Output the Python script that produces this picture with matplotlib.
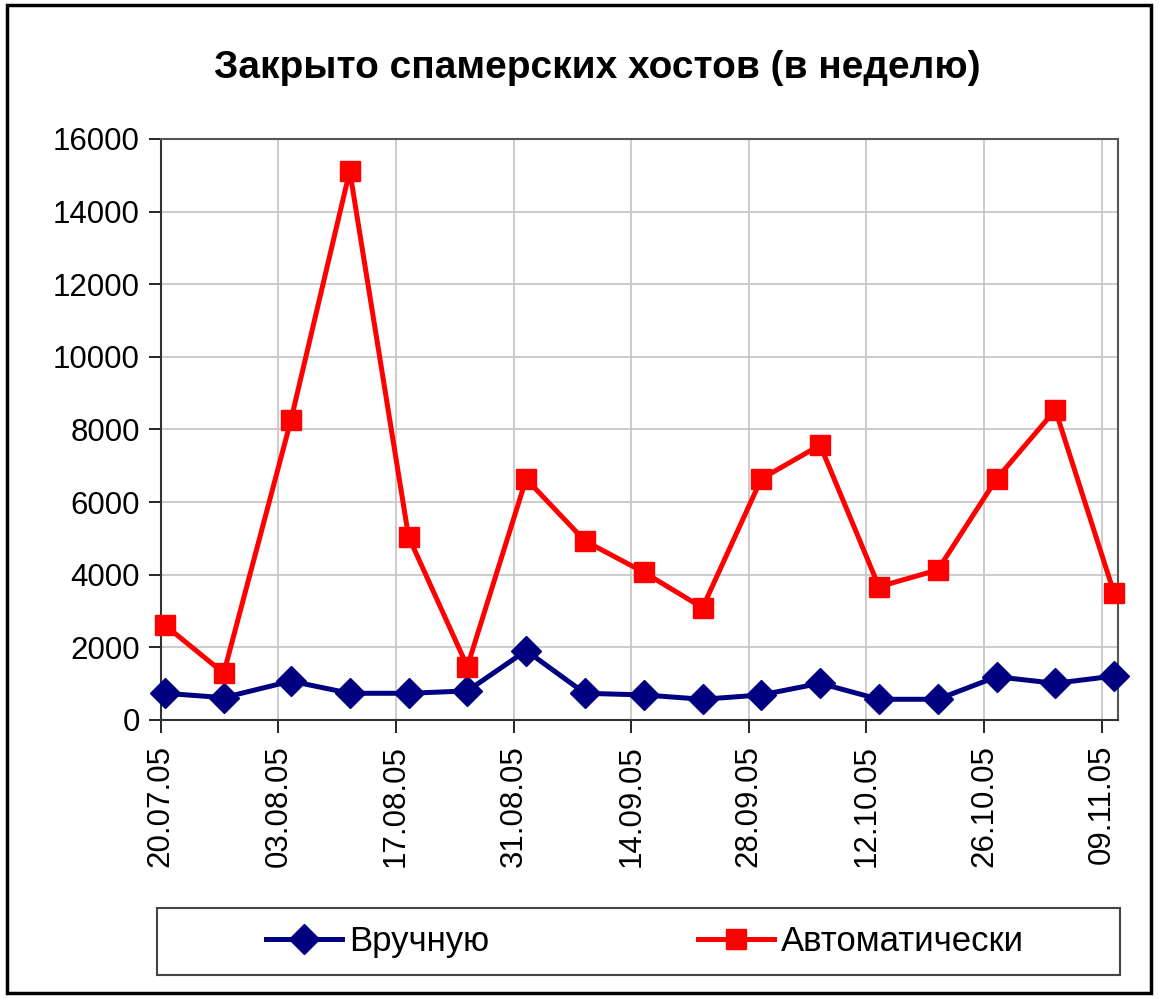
import matplotlib
matplotlib.use("Agg")
import matplotlib.pyplot as plt
import matplotlib.dates as mdates
from matplotlib.patches import Rectangle
import pandas as pd

plt.rcParams['font.family'] = ['Liberation Sans', 'DejaVu Sans']

# weekly data (dates as in the source table)
dates = ["2005-07-20", "2005-07-27", "2005-08-04", "2005-08-11", "2005-08-18",
         "2005-08-25", "2005-09-01", "2005-09-08", "2005-09-15", "2005-09-22",
         "2005-09-29", "2005-10-06", "2005-10-13", "2005-10-20", "2005-10-27",
         "2005-11-03", "2005-11-10"]
manual = [735, 615, 1070, 735, 735, 800, 1910, 735, 690, 570,
          690, 1010, 570, 570, 1190, 1010, 1210]
auto = [2610, 1290, 8260, 15120, 5050, 1470, 6640, 4930, 4070, 3090,
        6640, 7570, 3670, 4130, 6640, 8540, 3490]

labels = ["Вручную", "Автоматически"]
title = "Закрыто спамерских хостов (в неделю)"

# Excel puts each point in the middle of its day slot
x = pd.to_datetime(dates) + pd.Timedelta(hours=12)

fig = plt.figure(figsize=(11.59, 9.99), dpi=100)
ax = fig.add_axes([0.1387, 0.2793, 0.8262, 0.5816])

ax.plot(x, manual, color='#000080', lw=3.6, marker='D', markersize=15,
        label=labels[0], clip_on=False, zorder=3)
ax.plot(x, auto, color='#FF0000', lw=3.6, marker='s', markersize=14,
        label=labels[1], clip_on=False, zorder=3)

ax.set_ylim(0, 16000)
ax.set_yticks(range(0, 16001, 2000))
ax.set_xlim(pd.Timestamp("2005-07-20"), pd.Timestamp("2005-11-11"))
ax.set_xticks(pd.date_range("2005-07-20", "2005-11-09", freq="14D"))
ax.xaxis.set_major_formatter(mdates.DateFormatter("%d.%m.%y"))
ax.tick_params(axis='x', rotation=90, pad=9)
ax.tick_params(axis='y', pad=6)
ax.tick_params(labelsize=22.5, length=9, width=1.2, colors='black')

ax.grid(True, color='#c8c8c8', lw=1.3)
ax.set_axisbelow(True)
for s in ['top', 'right']:
    ax.spines[s].set_color('#555555')
    ax.spines[s].set_linewidth(1.5)
for s in ['left', 'bottom']:
    ax.spines[s].set_color('#333333')
    ax.spines[s].set_linewidth(1.5)

fig.text(0.515, 0.932, title, ha='center', va='center',
         fontsize=28, fontweight='bold')

# legend box and outer chart border
fig.patches.append(Rectangle((0.1355, 0.024), 0.831, 0.067, transform=fig.transFigure,
                             fill=False, ec='#444444', lw=1.5))
fig.patches.append(Rectangle((0.006, 0.006), 0.987, 0.989, transform=fig.transFigure,
                             fill=False, ec='black', lw=2.5))

fig.legend(loc='center', bbox_to_anchor=(0.5565, 0.0575), ncol=2, frameon=False,
           fontsize=25, handlelength=2.2, handletextpad=0.2, columnspacing=6)

fig.savefig("out.png", dpi=100)
